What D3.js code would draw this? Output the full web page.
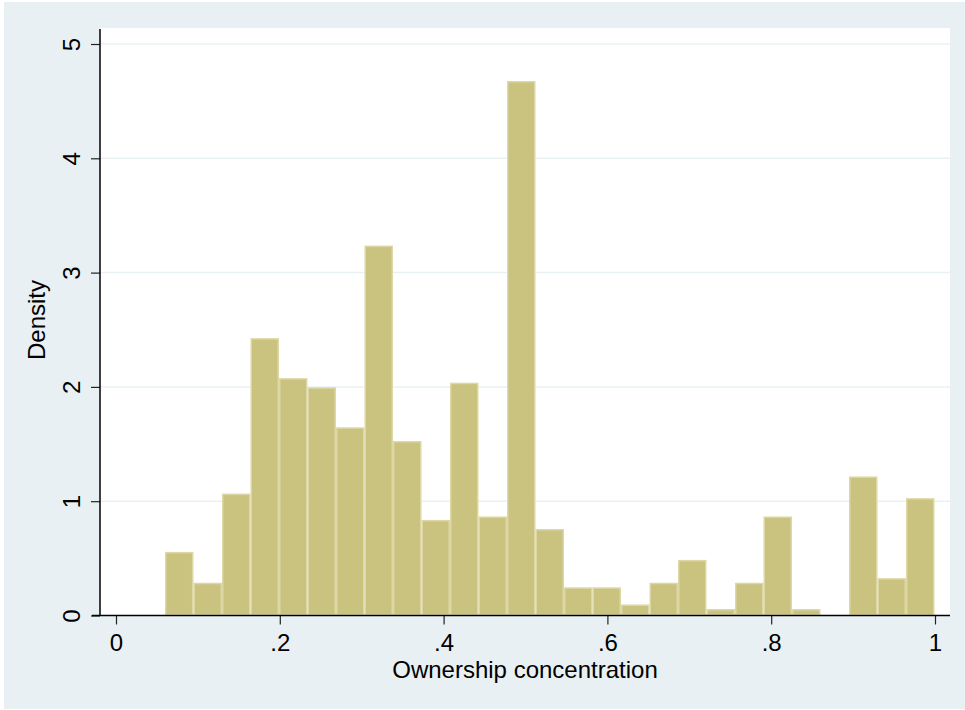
<!DOCTYPE html>
<html>
<head>
<meta charset="utf-8">
<script src="https://d3js.org/d3.v7.min.js"></script>
<style>
  body { margin: 0; background: #fff; }
  text { font-family: "Liberation Sans", Arial, sans-serif; fill: #000; }
</style>
</head>
<body>
<div id="chart"></div>
<script>

// histogram of ownership concentration (27 bins)
const binStart = 0.0598;
const binWidth = 0.0348;
const density = [0.55, 0.28, 1.06, 2.42, 2.07, 1.99, 1.64, 3.23, 1.52, 0.83,
                 2.03, 0.86, 4.67, 0.75, 0.24, 0.24, 0.09, 0.28, 0.48, 0.05,
                 0.28, 0.86, 0.05, 0, 1.21, 0.32, 1.02];
const xTicks = [0, 0.2, 0.4, 0.6, 0.8, 1];
const xTickLabels = ["0", ".2", ".4", ".6", ".8", "1"];
const yTicks = [0, 1, 2, 3, 4, 5];

const W = 965, H = 710;

const svg = d3.select("#chart").append("svg")
  .attr("width", W)
  .attr("height", H);

// outer graph region
svg.append("rect")
  .attr("x", 4).attr("y", 2)
  .attr("width", W - 4).attr("height", 707)
  .attr("fill", "#e9f0f3");

// plot region
svg.append("rect")
  .attr("x", 100).attr("y", 28)
  .attr("width", 850).attr("height", 588)
  .attr("fill", "#ffffff");

const x = d3.scaleLinear().domain([0, 1]).range([116, 935]);
const y = d3.scaleLinear().domain([0, 5]).range([615.5, 44]);

// grid lines
svg.append("g")
  .selectAll("line")
  .data(yTicks.filter(d => d > 0))
  .join("line")
    .attr("x1", 100).attr("x2", 950)
    .attr("y1", d => y(d)).attr("y2", d => y(d))
    .attr("stroke", "#eaf1f4")
    .attr("stroke-width", 1.5);

// bars
const bins = density.map((d, i) => ({x0: binStart + i * binWidth, x1: binStart + (i + 1) * binWidth, v: d}));
svg.append("g")
  .selectAll("rect")
  .data(bins.filter(b => b.v > 0))
  .join("rect")
    .attr("x", b => x(b.x0) + 0.75)
    .attr("width", b => x(b.x1) - x(b.x0) - 1.5)
    .attr("y", b => y(b.v))
    .attr("height", b => y(0) - y(b.v) - 0.75)
    .attr("fill", "#cac380")
    .attr("stroke", "#dcd7a4")
    .attr("stroke-width", 1.5);

// y axis
const yAxis = svg.append("g")
  .attr("transform", "translate(100,0)")
  .call(d3.axisLeft(y).tickValues(yTicks).tickSize(9).tickFormat(d3.format("d")));
yAxis.select(".domain").remove();
yAxis.selectAll(".tick line").attr("stroke", "#222").attr("stroke-width", 1.2);
yAxis.selectAll(".tick text")
  .attr("x", null).attr("dy", null)
  .attr("text-anchor", "middle")
  .attr("transform", "translate(-20,0) rotate(-90)")
  .style("font-size", "24px");
svg.append("line")
  .attr("x1", 100).attr("x2", 100)
  .attr("y1", 29).attr("y2", 616)
  .attr("stroke", "#000").attr("stroke-width", 1.5);

// x axis
const xAxis = svg.append("g")
  .attr("transform", "translate(0,615.5)")
  .call(d3.axisBottom(x).tickValues(xTicks).tickSize(9).tickFormat((d, i) => xTickLabels[i]));
xAxis.select(".domain").remove();
xAxis.selectAll(".tick line").attr("stroke", "#222").attr("stroke-width", 1.2);
xAxis.selectAll(".tick text")
  .attr("y", 35.5).attr("dy", null)
  .style("font-size", "24px");
svg.append("line")
  .attr("x1", 92).attr("x2", 950)
  .attr("y1", 615.5).attr("y2", 615.5)
  .attr("stroke", "#000").attr("stroke-width", 1.5);

// axis titles
svg.append("text")
  .attr("x", 525).attr("y", 678)
  .attr("text-anchor", "middle")
  .style("font-size", "24px")
  .text("Ownership concentration");

svg.append("text")
  .attr("transform", "translate(45,320) rotate(-90)")
  .attr("text-anchor", "middle")
  .style("font-size", "24px")
  .text("Density");

</script>
</body>
</html>
